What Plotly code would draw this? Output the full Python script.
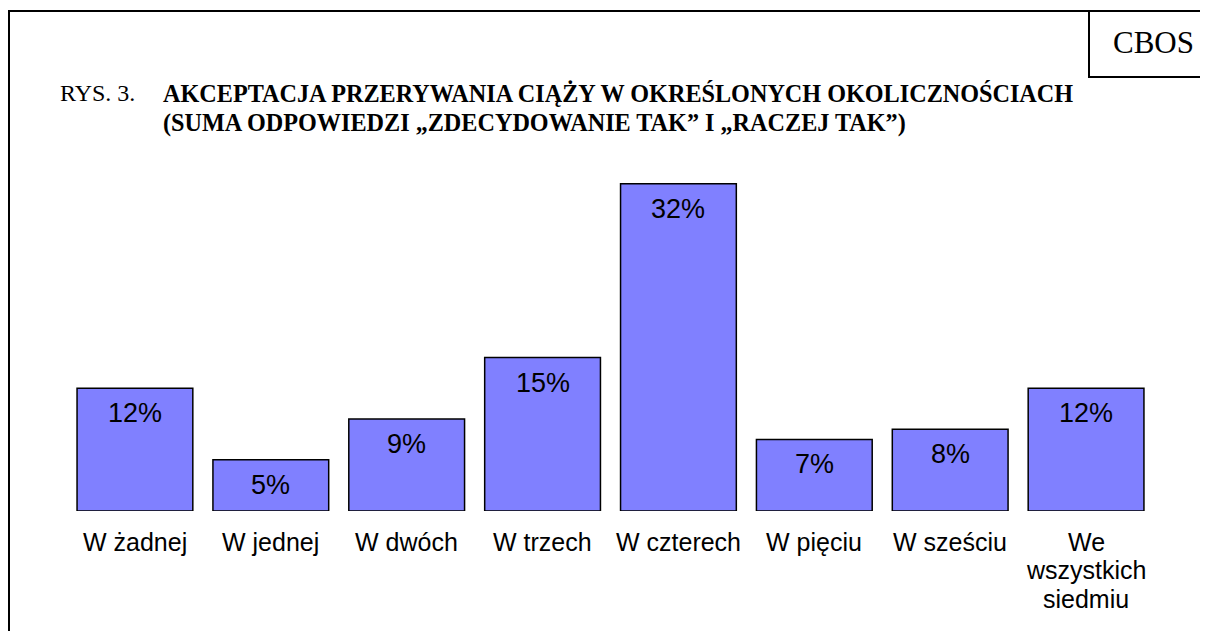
import plotly.graph_objects as go

categories = ["W żadnej", "W jednej", "W dwóch", "W trzech", "W czterech",
              "W pięciu", "W sześciu", "We wszystkich siedmiu"]
tick_labels = ["W żadnej", "W jednej", "W dwóch", "W trzech", "W czterech",
               "W pięciu", "W sześciu", "We<br>wszystkich<br>siedmiu"]
values = [12, 5, 9, 15, 32, 7, 8, 12]
value_labels = ["12%", "5%", "9%", "15%", "32%", "7%", "8%", "12%"]

title_prefix = "RYS. 3."
title_line1 = "AKCEPTACJA PRZERYWANIA CIĄŻY W OKREŚLONYCH OKOLICZNOŚCIACH"
title_line2 = "(SUMA ODPOWIEDZI „ZDECYDOWANIE TAK” I „RACZEJ TAK”)"
source = "CBOS"

# the page body has an 8px default margin, so the figure is shifted by it
OFF = 8
W, H = 1200, 623
L, R, T, B = 59, 54, 145, 120
PW, PH = W - L - R, H - T - B


def px(x):
    return (x - OFF - L) / PW


def py(y):
    return 1 - (y - OFF - T) / PH


SANS = "Liberation Sans, Arial, sans-serif"
SERIF = "Liberation Serif, Times New Roman, serif"

fig = go.Figure()
fig.add_trace(go.Bar(
    x=categories, y=values,
    marker=dict(color="#8080FF", line=dict(color="#000000", width=1.5)),
    hoverinfo="skip",
))

annotations = []
for cat, v, lab in zip(categories, values, value_labels):
    annotations.append(dict(x=cat, y=v, xref="x", yref="y", text=lab,
                            showarrow=False, yanchor="middle", yshift=-25,
                            font=dict(family=SANS, size=27, color="#000")))
for cat, tl in zip(categories, tick_labels):
    for k, line in enumerate(tl.split("<br>")):
        annotations.append(dict(x=cat, y=0, xref="x", yref="y", text=line,
                                showarrow=False, yanchor="middle",
                                yshift=-(31 + k * 28.3),
                                font=dict(family=SANS, size=25, color="#000")))

annotations += [
    dict(x=px(58), y=py(93), xref="paper", yref="paper", text=title_prefix,
         showarrow=False, xanchor="left", yanchor="middle",
         font=dict(family=SERIF, size=24, color="#000")),
    dict(x=px(161), y=py(93), xref="paper", yref="paper", text="<b>" + title_line1 + "</b>",
         showarrow=False, xanchor="left", yanchor="middle",
         font=dict(family=SERIF, size=24.2, color="#000")),
    dict(x=px(161), y=py(123), xref="paper", yref="paper", text="<b>" + title_line2 + "</b>",
         showarrow=False, xanchor="left", yanchor="middle",
         font=dict(family=SERIF, size=24.2, color="#000")),
    dict(x=px(1153), y=py(43), xref="paper", yref="paper", text=source,
         showarrow=False, xanchor="center", yanchor="middle",
         font=dict(family=SERIF, size=31, color="#000")),
]

shapes = [
    # outer frame (top and left visible)
    dict(type="line", xref="paper", yref="paper", x0=px(9), x1=px(1215), y0=py(11), y1=py(11),
         line=dict(color="#000", width=2)),
    dict(type="line", xref="paper", yref="paper", x0=px(9), x1=px(9), y0=py(10), y1=py(650),
         line=dict(color="#000", width=2)),
    # CBOS box
    dict(type="line", xref="paper", yref="paper", x0=px(1089), x1=px(1089), y0=py(10), y1=py(77),
         line=dict(color="#000", width=2)),
    dict(type="line", xref="paper", yref="paper", x0=px(1088), x1=px(1215), y0=py(77), y1=py(77),
         line=dict(color="#000", width=2)),
]

fig.update_layout(
    width=W, height=H, autosize=False,
    margin=dict(l=L, r=R, t=T, b=B, pad=0),
    paper_bgcolor="white", plot_bgcolor="white",
    showlegend=False, bargap=0.148,
    annotations=annotations, shapes=shapes,
    hovermode=False,
)
fig.update_xaxes(range=[-0.5, 7.5], showticklabels=False, showgrid=False,
                 zeroline=False, showline=False, ticks="")
fig.update_yaxes(range=[0, 35], showticklabels=False, showgrid=False,
                 zeroline=False, showline=False, ticks="")

fig.write_html("out.html", config={"displayModeBar": False})
